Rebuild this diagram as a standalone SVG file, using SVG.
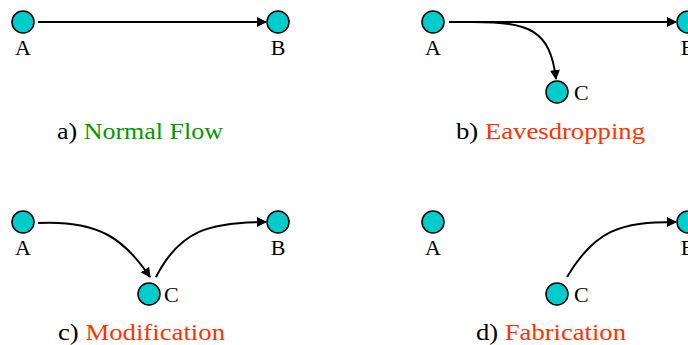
<svg xmlns="http://www.w3.org/2000/svg" width="688" height="345" viewBox="0 0 688 345">
<style>
.n{fill:#00CCCC;stroke:#000;stroke-width:1.5}
.t{font-family:"Liberation Serif",serif;font-size:22px;fill:#000}
.cap{font-family:"Liberation Serif",serif;font-size:24px;fill:#000}
.g{fill:#009900}.r{fill:#FF3300}
.e{fill:none;stroke:#000;stroke-width:2;marker-end:url(#ah)}
</style>
<defs>
<marker id="ah" viewBox="0 0 10 10" refX="9" refY="5" markerWidth="5" markerHeight="5" orient="auto" markerUnits="strokeWidth">
<path d="M0,0 L10,5 L0,10 z" fill="#000"/>
</marker>
</defs>
<g id="connectors">
<path class="e" d="M38,22 L266,22"/>
<path class="e" d="M449,22 L676,22"/>
<path class="e" d="M473,22 C530,22 550,30 556,79"/>
<path class="e" d="M38,223 C100,220 125,240 150,277"/>
<path class="e" d="M156,277 C180,230 210,222 266,222"/>
<path class="e" d="M567,277 C595,230 620,222 676,222"/>
</g>
<g id="a-A"><circle class="n" cx="23" cy="22" r="11"/><text class="t" x="23" y="55" text-anchor="middle">A</text></g>
<g id="a-B"><circle class="n" cx="278" cy="22" r="11"/><text class="t" x="278" y="55" text-anchor="middle">B</text></g>
<g id="b-A"><circle class="n" cx="433" cy="22" r="11"/><text class="t" x="433" y="55" text-anchor="middle">A</text></g>
<g id="b-B"><circle class="n" cx="688" cy="22" r="11"/><text class="t" x="688" y="55" text-anchor="middle">B</text></g>
<g id="b-C"><circle class="n" cx="557" cy="92" r="11"/><text class="t" x="574" y="100">C</text></g>
<g id="c-A"><circle class="n" cx="23" cy="222" r="11"/><text class="t" x="23" y="255" text-anchor="middle">A</text></g>
<g id="c-B"><circle class="n" cx="278" cy="222" r="11"/><text class="t" x="278" y="255" text-anchor="middle">B</text></g>
<g id="c-C"><circle class="n" cx="149" cy="294" r="11"/><text class="t" x="164" y="302">C</text></g>
<g id="d-A"><circle class="n" cx="433" cy="222" r="11"/><text class="t" x="433" y="255" text-anchor="middle">A</text></g>
<g id="d-B"><circle class="n" cx="688" cy="222" r="11"/><text class="t" x="688" y="255" text-anchor="middle">B</text></g>
<g id="d-C"><circle class="n" cx="557" cy="294" r="11"/><text class="t" x="574" y="302">C</text></g>
<text class="cap" x="57" y="139" textLength="166" lengthAdjust="spacingAndGlyphs">a) <tspan class="g">Normal Flow</tspan></text>
<text class="cap" x="456" y="139" textLength="189" lengthAdjust="spacingAndGlyphs">b) <tspan class="r">Eavesdropping</tspan></text>
<text class="cap" x="58" y="340" textLength="167" lengthAdjust="spacingAndGlyphs">c) <tspan class="r">Modification</tspan></text>
<text class="cap" x="476" y="340" textLength="150" lengthAdjust="spacingAndGlyphs">d) <tspan class="r">Fabrication</tspan></text>
</svg>
